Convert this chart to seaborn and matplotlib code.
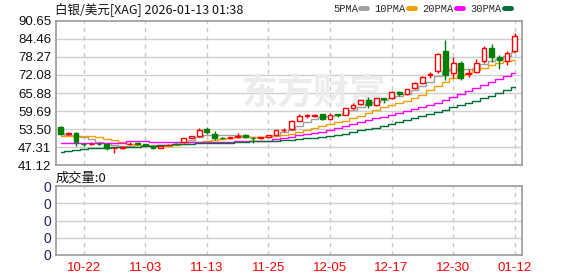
import matplotlib
matplotlib.use("Agg")
import matplotlib.pyplot as plt
from matplotlib.lines import Line2D
import seaborn as sns
import pandas as pd
import numpy as np

dates = ["10-17", "10-20", "10-21", "10-22", "10-23", "10-24", "10-27", "10-28", "10-29", "10-30",
         "10-31", "11-03", "11-04", "11-05", "11-06", "11-07", "11-10", "11-11", "11-12", "11-13",
         "11-14", "11-17", "11-18", "11-19", "11-20", "11-21", "11-24", "11-25", "11-26", "11-27",
         "11-28", "12-01", "12-02", "12-03", "12-04", "12-05", "12-08", "12-09", "12-10", "12-11",
         "12-12", "12-15", "12-16", "12-17", "12-18", "12-19", "12-22", "12-23", "12-24", "12-26",
         "12-29", "12-30", "12-31", "01-02", "01-05", "01-06", "01-07", "01-08", "01-09", "01-12"]

opens = [54.1, 51.9, 52.2, 48.4, 48.3, 48.5, 48.2, 47.0, 47.1, 48.3,
         48.7, 48.3, 47.6, 47.0, 47.9, 48.5, 48.9, 50.5, 51.1, 53.5,
         51.9, 50.5, 50.3, 50.9, 51.5, 50.5, 50.3, 50.9, 51.3, 53.0,
         53.5, 56.3, 58.0, 58.1, 58.6, 57.1, 58.5, 58.3, 60.6, 62.0,
         63.4, 61.6, 64.0, 64.0, 66.3, 65.5, 67.5, 69.2, 72.1, 73.5,
         80.3, 72.6, 76.3, 72.5, 73.2, 76.9, 81.2, 78.1, 77.0, 80.4]
highs = [54.7, 52.6, 52.4, 48.6, 48.9, 48.9, 48.5, 47.4, 47.6, 48.9,
         49.0, 48.5, 47.8, 47.8, 48.3, 48.6, 50.4, 51.1, 53.7, 54.2,
         52.9, 50.8, 50.9, 52.2, 51.7, 50.7, 50.9, 51.5, 53.2, 53.8,
         56.5, 58.6, 58.6, 58.7, 58.8, 59.1, 58.8, 60.8, 62.6, 63.6,
         64.4, 64.3, 64.2, 66.5, 66.6, 67.4, 69.5, 71.8, 73.0, 79.8,
         84.1, 78.1, 76.9, 74.3, 77.6, 82.0, 82.7, 78.9, 80.4, 86.4]
lows = [51.6, 51.5, 47.8, 47.8, 47.9, 47.9, 46.4, 45.3, 46.6, 47.9,
        48.2, 47.7, 46.6, 46.8, 47.6, 47.9, 48.7, 50.4, 50.8, 51.9,
        49.8, 49.9, 50.1, 50.4, 50.5, 48.8, 50.0, 50.7, 51.2, 52.4,
        53.3, 56.1, 57.4, 57.8, 56.5, 56.9, 57.7, 58.2, 60.3, 61.9,
        60.8, 61.4, 62.3, 63.7, 65.0, 65.2, 67.2, 68.9, 71.2, 72.6,
        70.5, 70.9, 70.4, 71.3, 72.7, 76.2, 76.6, 74.0, 75.5, 80.1]
closes = [51.8, 52.1, 49.0, 48.2, 48.5, 48.3, 46.9, 47.1, 47.3, 48.5,
          48.5, 48.1, 47.0, 47.8, 48.1, 48.4, 50.3, 51.0, 53.0, 52.3,
          50.5, 50.4, 50.9, 51.2, 50.7, 50.3, 50.7, 51.3, 53.0, 53.2,
          56.3, 57.9, 58.2, 58.3, 57.1, 58.3, 58.3, 60.6, 61.7, 63.4,
          61.7, 64.0, 63.8, 66.3, 65.5, 67.1, 69.2, 71.5, 72.3, 79.3,
          72.0, 76.1, 71.2, 72.8, 76.3, 81.2, 78.1, 77.2, 79.7, 85.5]

ma5 = [52.2, 51.6, 51.2, 50.7, 50.0, 49.2, 48.6, 48.1, 47.8, 47.8,
       48.0, 48.1, 47.9, 47.9, 47.9, 48.2, 48.9, 49.8, 50.8, 51.4,
       51.5, 51.5, 51.5, 51.3, 51.0, 50.7, 50.7, 50.9, 51.5, 52.4,
       53.3, 54.5, 55.8, 57.0, 57.5, 57.9, 58.2, 58.9, 59.9, 61.2,
       62.0, 62.8, 63.4, 64.1, 64.8, 65.7, 66.8, 68.2, 69.6, 71.8,
       73.4, 74.0, 74.0, 74.0, 74.5, 75.8, 76.8, 77.6, 78.6, 80.1]
ma10 = [51.0, 51.0, 51.0, 51.0, 51.0, 50.6, 50.2, 49.7, 49.2, 48.5,
        48.1, 47.8, 47.5, 47.5, 47.7, 48.0, 48.5, 48.9, 49.1, 49.4,
        49.8, 50.2, 50.4, 50.6, 50.7, 50.8, 50.9, 51.0, 51.1, 51.4,
        51.8, 52.4, 53.1, 53.9, 54.6, 55.3, 55.8, 56.4, 57.2, 58.0,
        58.9, 59.9, 60.9, 61.7, 62.5, 63.3, 64.3, 65.3, 66.8, 68.2,
        69.6, 70.9, 72.0, 72.9, 73.8, 74.6, 75.5, 76.2, 76.8, 77.3]
ma20 = [48.6, 48.6, 48.6, 48.6, 48.6, 48.6, 48.7, 48.7, 48.8, 49.5,
        49.5, 49.4, 49.1, 49.1, 49.1, 49.1, 49.1, 49.1, 49.1, 49.1,
        49.1, 49.1, 49.1, 49.4, 49.4, 49.4, 49.4, 49.5, 50.2, 50.4,
        50.9, 51.3, 51.7, 52.2, 52.6, 53.1, 53.7, 54.4, 55.2, 55.9,
        56.5, 57.2, 57.8, 58.4, 59.0, 59.6, 60.3, 61.0, 61.8, 62.6,
        63.6, 64.6, 65.6, 66.6, 67.6, 68.6, 69.7, 70.6, 71.6, 72.7]
ma30 = [45.7, 46.0, 46.4, 46.7, 46.9, 47.0, 47.1, 47.2, 47.2, 47.3,
        47.4, 47.5, 47.8, 47.9, 48.0, 48.2, 48.3, 48.5, 48.7, 48.7,
        48.7, 48.7, 48.8, 49.0, 49.2, 49.4, 49.5, 49.5, 49.5, 49.6,
        49.8, 50.0, 50.3, 50.5, 50.8, 51.0, 51.4, 51.8, 52.6, 53.0,
        53.5, 54.0, 54.6, 55.3, 56.0, 56.6, 57.2, 57.9, 58.6, 59.3,
        60.1, 60.9, 61.7, 62.5, 63.3, 64.1, 64.9, 65.8, 66.8, 67.9]
volume = [0] * 60

price_ticks = [41.12, 47.31, 53.50, 59.69, 65.88, 72.08, 78.27, 84.46, 90.65]
date_ticks = ["10-22", "11-03", "11-13", "11-25", "12-05", "12-17", "12-30", "01-12"]
vol_tick_labels = ["0", "0", "0", "0", "0"]

title_text = "白银/美元[XAG] 2026-01-13 01:38"
vol_label = "成交量:0"
ma_names = ["5PMA", "10PMA", "20PMA", "30PMA"]
ma_colors = ["#a0a0a0", "#f0a000", "#ff00ff", "#006e32"]

sns.set_theme(style="white")
plt.rcParams["font.family"] = ["Liberation Sans", "Noto Sans CJK SC", "DejaVu Sans"]

W, H = 578, 276
fig = plt.figure(figsize=(W / 100, H / 100), dpi=100)
ax = fig.add_axes([56 / W, 1 - 165 / H, 466 / W, 144 / H])
axv = fig.add_axes([56 / W, 1 - 255 / H, 466 / W, 69 / H])

x = np.arange(len(dates))
df = pd.DataFrame({"x": x, "open": opens, "high": highs, "low": lows, "close": closes,
                   "ma5": ma5, "ma10": ma10, "ma20": ma20, "ma30": ma30, "vol": volume})

up_col = "#ff0000"
dn_col = "#008000"

for a in (ax, axv):
    a.set_facecolor("white")
    for s in a.spines.values():
        s.set_color("#9a9a9a")
        s.set_linewidth(1.2)
    a.tick_params(length=0)

ax.set_ylim(price_ticks[0], price_ticks[-1])
ax.set_yticks(price_ticks)
ax.set_yticklabels([f"{v:.2f}" for v in price_ticks], fontsize=9.5, color="#111111")
for v in price_ticks[1:-1]:
    ax.axhline(v, color="#cfcfcf", lw=1, zorder=0)

tick_idx = [dates.index(d) for d in date_ticks]
for a in (ax, axv):
    a.set_xlim(-0.6, 59.95)
    for t in tick_idx:
        a.axvline(t, color="#c8c8c8", lw=1, ls=(0, (3, 3)), zorder=0)

# watermark
ax.text(0.555, 0.5, "东方财富", transform=ax.transAxes, fontsize=26, fontweight="bold",
        color="#ececec", ha="center", va="center", zorder=0,
        family=["Noto Sans CJK SC", "DejaVu Sans"])

# candles
for i, r in df.iterrows():
    up = r["close"] >= r["open"]
    col = up_col if up else dn_col
    ax.vlines(r["x"], r["low"], r["high"], color=col, lw=1, zorder=2)
    bottom = min(r["open"], r["close"])
    h = max(abs(r["close"] - r["open"]), 0.01)
    ax.bar(r["x"], h, bottom=bottom, width=0.62, color="white" if up else col,
           edgecolor=col, linewidth=1, zorder=3)

# moving averages
for col, c in zip(["ma5", "ma10", "ma20", "ma30"], ma_colors):
    sns.lineplot(data=df, x="x", y=col, ax=ax, color=c, lw=1.0, zorder=1,
                 drawstyle="steps-mid", legend=False)

ax.set_xlabel("")
ax.set_ylabel("")
ax.set_xticks([])

# volume panel
axv.bar(df["x"], df["vol"], width=0.62, color=up_col)
axv.set_ylim(0, 4)
axv.set_yticks(range(5))
axv.set_yticklabels(vol_tick_labels, fontsize=10, color="#1a2a5a")
for v in range(1, 4):
    axv.axhline(v, color="#cfcfcf", lw=1, zorder=0)
axv.set_xticks(tick_idx)
axv.set_xticklabels(date_ticks, fontsize=9.5, color="#ff0000")
axv.tick_params(axis="x", pad=5)

# texts
fig.text(55 / W, 1 - 9 / H, title_text, fontsize=9, ha="left", va="center", color="#111111",
         family=["Noto Sans CJK SC", "DejaVu Sans"])
fig.text(56 / W, 1 - 178 / H, vol_label, fontsize=9.5, ha="left", va="center", color="#111111",
         family=["Noto Sans CJK SC", "DejaVu Sans"])

handles = [Line2D([0], [0], color=c, lw=3.5) for c in ma_colors]
leg = fig.legend(handles, ma_names, loc="center right", bbox_to_anchor=(511 / W, 1 - 9 / H),
                 bbox_transform=fig.transFigure, ncol=4,
                 frameon=False, markerfirst=False, handlelength=0.65, handletextpad=0.25,
                 columnspacing=0.7, borderaxespad=0.0, borderpad=0.0,
                 prop={"family": "Liberation Mono", "size": 7.5})

fig.savefig("out.png", dpi=100)
